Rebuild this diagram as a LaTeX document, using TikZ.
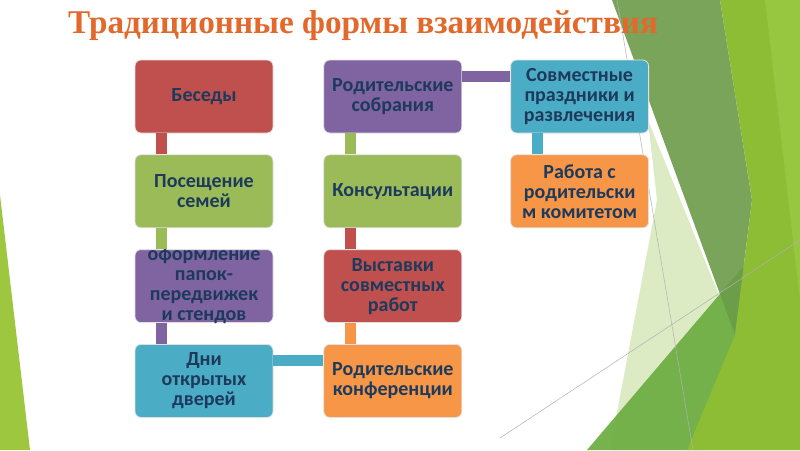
\documentclass[tikz,border=0pt]{standalone}
\usepackage{fontspec}
\setmainfont{Liberation Serif}
\newfontfamily\boxfont{Carlito}
\usepackage{xcolor}
\usepackage{tikz}
\usetikzlibrary{positioning}

\definecolor{boxred}{HTML}{C0504D}
\definecolor{boxgreen}{HTML}{9BBB59}
\definecolor{boxpurple}{HTML}{8064A2}
\definecolor{boxblue}{HTML}{4BACC6}
\definecolor{boxorange}{HTML}{F79646}
\definecolor{boxtext}{HTML}{1D3A5C}
\definecolor{titleorange}{HTML}{E2692B}
\definecolor{bgdark}{HTML}{6C9B49}
\definecolor{bgbright}{HTML}{8DBC35}
\definecolor{bglight}{HTML}{9ACA45}
\definecolor{bgmid}{HTML}{6FAE45}
\definecolor{bgpale}{HTML}{DCEBC4}
\definecolor{bgleft}{HTML}{9DC73F}

\begin{document}
\begin{tikzpicture}[
  x=1pt, y=-1pt,
  every node/.style={font=\boxfont\bfseries\fontsize{20}{20}\selectfont},
  formbox/.style={rectangle, rounded corners=6pt, draw=black!12, line width=0.8pt,
    minimum width=138pt, minimum height=73pt, align=center, text=boxtext, inner sep=0pt},
  link/.style={line width=11pt},
  node distance=21pt and 50pt
]
\useasboundingbox (0,0) rectangle (800,450);
\fill[white] (0,0) rectangle (800,450);

\fill[bgleft] (0,195) -- (30,450) -- (0,450) -- cycle;
\fill[bgpale] (648,120) -- (735,335) -- (700,450) -- (610,450) -- (657,200) -- cycle;
\fill[bgmid, opacity=0.95] (587,450) -- (800,200) -- (800,450) -- cycle;
\fill[bgdark, opacity=0.9] (612,0) -- (720,0) -- (752,200) -- (735,335) -- cycle;
\fill[bgbright] (720,0) -- (800,0) -- (800,450) -- (687,450) -- (735,335) -- (752,200) -- cycle;
\fill[bglight, opacity=0.8] (765,0) -- (800,0) -- (800,300) -- cycle;
\draw[black!30, line width=0.5pt] (617,0) -- (693,450);
\draw[black!30, line width=0.5pt] (500,438) -- (800,240);

\node[formbox, fill=boxred] (besedy) at (204,96.5) {Беседы};
\node[formbox, fill=boxgreen, below=of besedy] (poseshch) {Посещение\\семей};
\node[formbox, fill=boxpurple, right=of besedy] (sobr) {Родительские\\собрания};
\node[formbox, fill=boxgreen, below=of sobr] (konsult) {Консультации};
\node[formbox, fill=boxred, below=of konsult] (vystavki) {Выставки\\совместных\\работ};
\node[formbox, fill=boxorange, below=of vystavki] (konf) {Родительские\\конференции};
\node[formbox, fill=boxpurple, left=of vystavki] (papki) {\smash{\raisebox{-6pt}{\begin{tabular}{@{}c@{}}оформление\\папок-\\передвижек\\и стендов\end{tabular}}}};
\node[formbox, fill=boxblue, left=of konf] (dni) {Дни\\открытых\\дверей};

\node[formbox, fill=boxblue, right=48pt of sobr] (prazdn) {Совместные\\праздники и\\развлечения};
\node[formbox, fill=boxorange, below=of prazdn] (komitet) {Работа с\\родительски\\м комитетом};

\draw[link, boxred] ([xshift=27pt]besedy.south west) -- ([xshift=27pt]poseshch.north west);
\draw[link, boxgreen] ([xshift=27pt]poseshch.south west) -- ([xshift=27pt]papki.north west);
\draw[link, boxpurple] ([xshift=27pt]papki.south west) -- ([xshift=27pt]dni.north west);
\draw[link, boxblue] ([yshift=-16pt]dni.north east) -- ([yshift=-16pt]konf.north west);
\draw[link, boxorange] ([xshift=27pt]konf.north west) -- ([xshift=27pt]vystavki.south west);
\draw[link, boxred] ([xshift=27pt]vystavki.north west) -- ([xshift=27pt]konsult.south west);
\draw[link, boxgreen] ([xshift=27pt]konsult.north west) -- ([xshift=27pt]sobr.south west);
\draw[link, boxpurple] ([yshift=-17pt]sobr.north east) -- ([yshift=-17pt]prazdn.north west);
\draw[link, boxblue] ([xshift=27pt]prazdn.south west) -- ([xshift=27pt]komitet.north west);

\node[font=\rmfamily\bfseries\fontsize{33.2}{36}\selectfont, text=titleorange, anchor=base west, inner sep=0pt] (title) at (68,33) {Традиционные формы взаимодействия};
\end{tikzpicture}
\end{document}
